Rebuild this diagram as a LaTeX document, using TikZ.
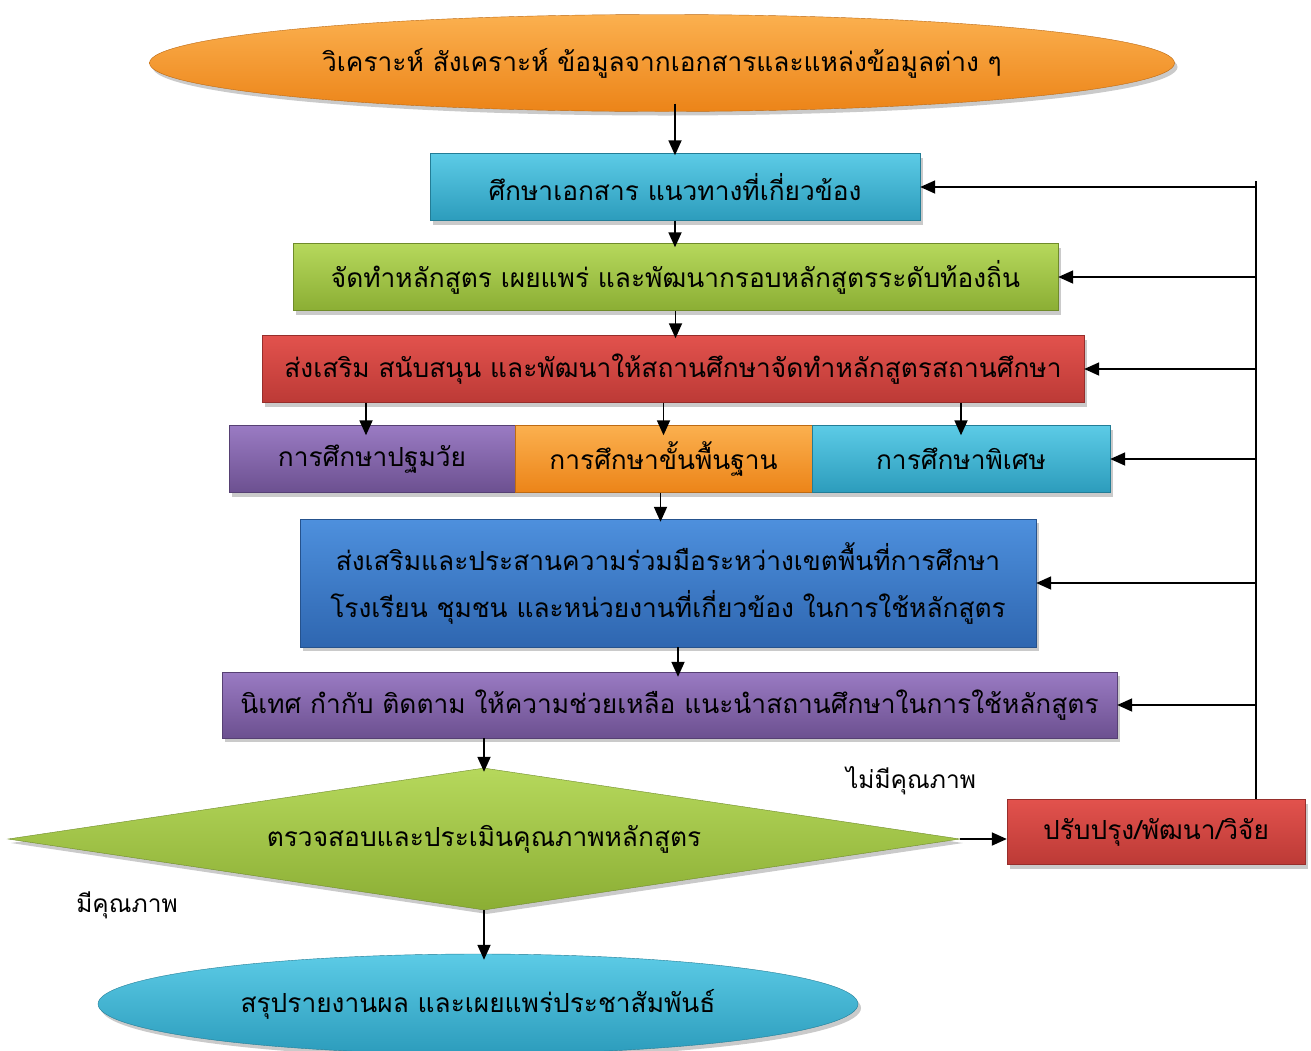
\documentclass[tikz,border=0pt]{standalone}
\usepackage{fontspec}
\newfontfamily\thai[Script=Thai]{Loma}
\usetikzlibrary{shapes.geometric,arrows.meta,shadows,shadings}
\definecolor{orT}{HTML}{FBB04F}\definecolor{orB}{HTML}{EC8418}
\definecolor{cyT}{HTML}{5CCBE6}\definecolor{cyB}{HTML}{2C9CBC}
\definecolor{grT}{HTML}{B6D85C}\definecolor{grB}{HTML}{8BAE34}
\definecolor{rdT}{HTML}{E2524D}\definecolor{rdB}{HTML}{BC3A36}
\definecolor{puT}{HTML}{9A7BC3}\definecolor{puB}{HTML}{6C5090}
\definecolor{blT}{HTML}{4E90DD}\definecolor{blB}{HTML}{2E66B0}
\tikzset{
  base/.style={inner sep=0pt, text=black, font=\thai\fontsize{26.3}{47}\selectfont,
    drop shadow={shadow xshift=3pt, shadow yshift=-4pt, opacity=0.35, fill=black!60}},
  boxo/.style={base, rectangle, top color=#1T, bottom color=#1B, draw=#1B!80!black, line width=0.4pt},
  ell/.style={base, ellipse, top color=#1T, bottom color=#1B, draw=#1B!80!black, line width=0.4pt},
  arr/.style={-{Triangle[length=15pt,width=13pt]}, line width=1.8pt, black},
  lbl/.style={font=\thai\fontsize{24.5}{28}\selectfont, text=black, inner sep=0pt},
  fb/.style={line width=1.8pt, black}
}
\begin{document}
\begin{tikzpicture}[x=1pt,y=-1pt]
\useasboundingbox (0,0) rectangle (1311,1050);
\node[ell=or, minimum width=1025pt, minimum height=97pt] (top) at (662,63) {วิเคราะห์ สังเคราะห์ ข้อมูลจากเอกสารและแหล่งข้อมูลต่าง ๆ};
\node[boxo=cy, minimum width=490pt, minimum height=67pt] (b1) at (675,187) {ศึกษาเอกสาร แนวทางที่เกี่ยวข้อง};
\node[boxo=gr, minimum width=765pt, minimum height=67pt] (b2) at (675.5,277) {จัดทำหลักสูตร เผยแพร่ และพัฒนากรอบหลักสูตรระดับท้องถิ่น};
\node[boxo=rd, minimum width=822pt, minimum height=67pt] (b3) at (673,369) {ส่งเสริม สนับสนุน และพัฒนาให้สถานศึกษาจัดทำหลักสูตรสถานศึกษา};
\node[boxo=pu, minimum width=286pt, minimum height=67pt] (s1) at (372,459) {การศึกษาปฐมวัย};
\node[boxo=or, minimum width=297pt, minimum height=67pt] (s2) at (663.5,459) {การศึกษาขั้นพื้นฐาน};
\node[boxo=cy, minimum width=298pt, minimum height=67pt] (s3) at (961,459) {การศึกษาพิเศษ};
\node[boxo=bl, minimum width=736pt, minimum height=128pt, align=center] (b5) at (668,583) {ส่งเสริมและประสานความร่วมมือระหว่างเขตพื้นที่การศึกษา\\โรงเรียน ชุมชน และหน่วยงานที่เกี่ยวข้อง ในการใช้หลักสูตร};
\node[boxo=pu, minimum width=895pt, minimum height=66pt] (b6) at (669.5,705) {นิเทศ กำกับ ติดตาม ให้ความช่วยเหลือ แนะนำสถานศึกษาในการใช้หลักสูตร};
\node[base, diamond, aspect=6.7, top color=grT, bottom color=grB, draw=grB!80!black, line width=0.4pt, minimum width=952pt, minimum height=142pt] (d) at (484,839) {ตรวจสอบและประเมินคุณภาพหลักสูตร};
\node[boxo=rd, minimum width=298pt, minimum height=65pt] (r) at (1156,832) {ปรับปรุง/พัฒนา/วิจัย};
\node[ell=cy, minimum width=760pt, minimum height=100pt] (bot) at (478,1004) {สรุปรายงานผล และเผยแพร่ประชาสัมพันธ์};
\node[lbl] (no) at (911,781) {ไม่มีคุณภาพ};
\node[lbl] (yes) at (127,905) {มีคุณภาพ};
% main flow
\draw[arr] ([yshift=8pt]top.south -| b1.north) -- ([yshift=-2pt]b1.north);
\draw[arr] (b1.south) -- ([yshift=-4pt]b1.south |- b2.north);
\draw[arr] (b2.south) -- ([yshift=-3pt]b2.south |- b3.north);
\draw[arr] ([xshift=-6pt]b3.south -| s1.north) -- ([xshift=-6pt,yshift=-10pt]s1.north);
\draw[arr] (b3.south -| s2.north) -- ([yshift=-10pt]s2.north);
\draw[arr] (b3.south -| s3.north) -- ([yshift=-10pt]s3.north);
\draw[arr] ([xshift=-3pt]s2.south) -- ([xshift=-3pt,yshift=-3pt]s2.south |- b5.north);
\draw[arr] ([xshift=10pt]b5.south) -- ([xshift=10pt,yshift=-5pt]b5.south |- b6.north);
\draw[arr] (b6.south -| d.north) -- ([yshift=-4pt]d.north);
\draw[arr] (d.south) -- ([yshift=-6pt]d.south |- bot.north);
\draw[arr] (d.east) -- (d.east -| r.west);
% feedback
\coordinate (vt) at (1256,181);
\draw[fb] (vt) -- (vt |- r.north);
\draw[arr] (vt |- b1.east) -- (b1.east);
\draw[arr] (vt |- b2.east) -- (b2.east);
\draw[arr] (vt |- b3.east) -- (b3.east);
\draw[arr] (vt |- s3.east) -- (s3.east);
\draw[arr] (vt |- b5.east) -- (b5.east);
\draw[arr] (vt |- b6.east) -- (b6.east);
\end{tikzpicture}
\end{document}
